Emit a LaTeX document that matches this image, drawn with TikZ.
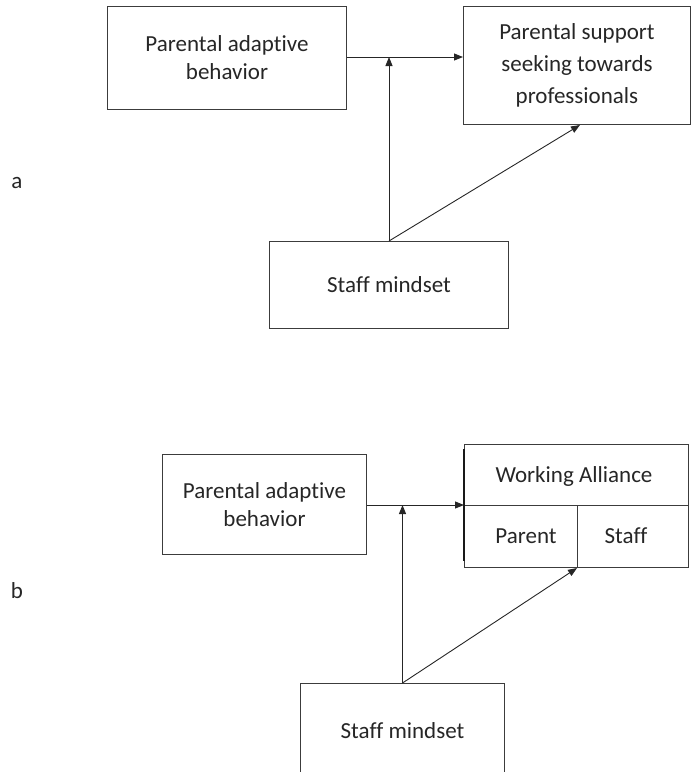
\documentclass[tikz,border=0pt]{standalone}
\usepackage{fontspec}
\setmainfont{Carlito}[Ligatures=NoCommon]
\usetikzlibrary{positioning,calc,arrows.meta}
\definecolor{linegray}{RGB}{60,60,60}
\tikzstyle{edge} = [-{Triangle[length=9pt,width=7pt]}, draw=black!85, line width=0.9pt]
\tikzstyle{box} = [draw=linegray, line width=1pt, anchor=north west]
\tikzstyle{divide} = [draw=linegray, line width=1pt]

\begin{document}
\begin{tikzpicture}[x=1pt, y=-1pt]
\tikzstyle{every node}=[align=center, inner sep=0pt, text=black!85, font=\fontsize{23}{28}\selectfont]
	\useasboundingbox (0,0) rectangle (691,772);

	% panel a
	\node[anchor=base] (laba) at (17,188) {a};
	\node[box, minimum width=239pt, minimum height=103pt] (pab) at (107,6) {Parental adaptive\\behavior};
	\node[box, minimum width=227pt, minimum height=118pt, font=\fontsize{23}{32}\selectfont] (pss) at (463,6) {Parental support\\seeking towards\\professionals};
	\node[box, minimum width=239pt, minimum height=87pt] (sma) at (269,241) {Staff mindset};

	\draw[edge] (pab.east |- 0,57) -- (pss.west |- 0,57);
	\draw[edge] (sma.north) -- (sma.north |- 0,57);
	\draw[edge] (sma.north) -- ([xshift=3pt]pss.south);

	% panel b
	\node[anchor=base] (labb) at (17,598) {b};
	\node[box, minimum width=204pt, minimum height=100pt] (pabb) at (162,454) {Parental adaptive\\behavior};
	\node[box, minimum width=224pt, minimum height=123pt] (wa) at (464,444) {};
	\coordinate (wamid) at (577,505);
	\node (wahead) at (574,476) {Working Alliance};
	\node (parent) at (526,536) {Parent};
	\node (staff) at (626,536) {Staff};
	\draw[divide] (wa.west |- wamid) -- (wa.east |- wamid);
	\draw[divide] (wamid) -- (wamid |- wa.south);
	\draw[line width=2.8pt, black!90] ([yshift=-5pt]wa.north west) -- ([yshift=7pt]wa.south west);
	\node[box, minimum width=204pt, minimum height=94pt] (smb) at (300,683) {Staff mindset};

	\draw[edge] (pabb.east |- wamid) -- (wa.west |- wamid);
	\draw[edge] (smb.north) -- (smb.north |- wamid);
	\draw[edge] (smb.north) -- (wamid |- wa.south);
\end{tikzpicture}
\end{document}
